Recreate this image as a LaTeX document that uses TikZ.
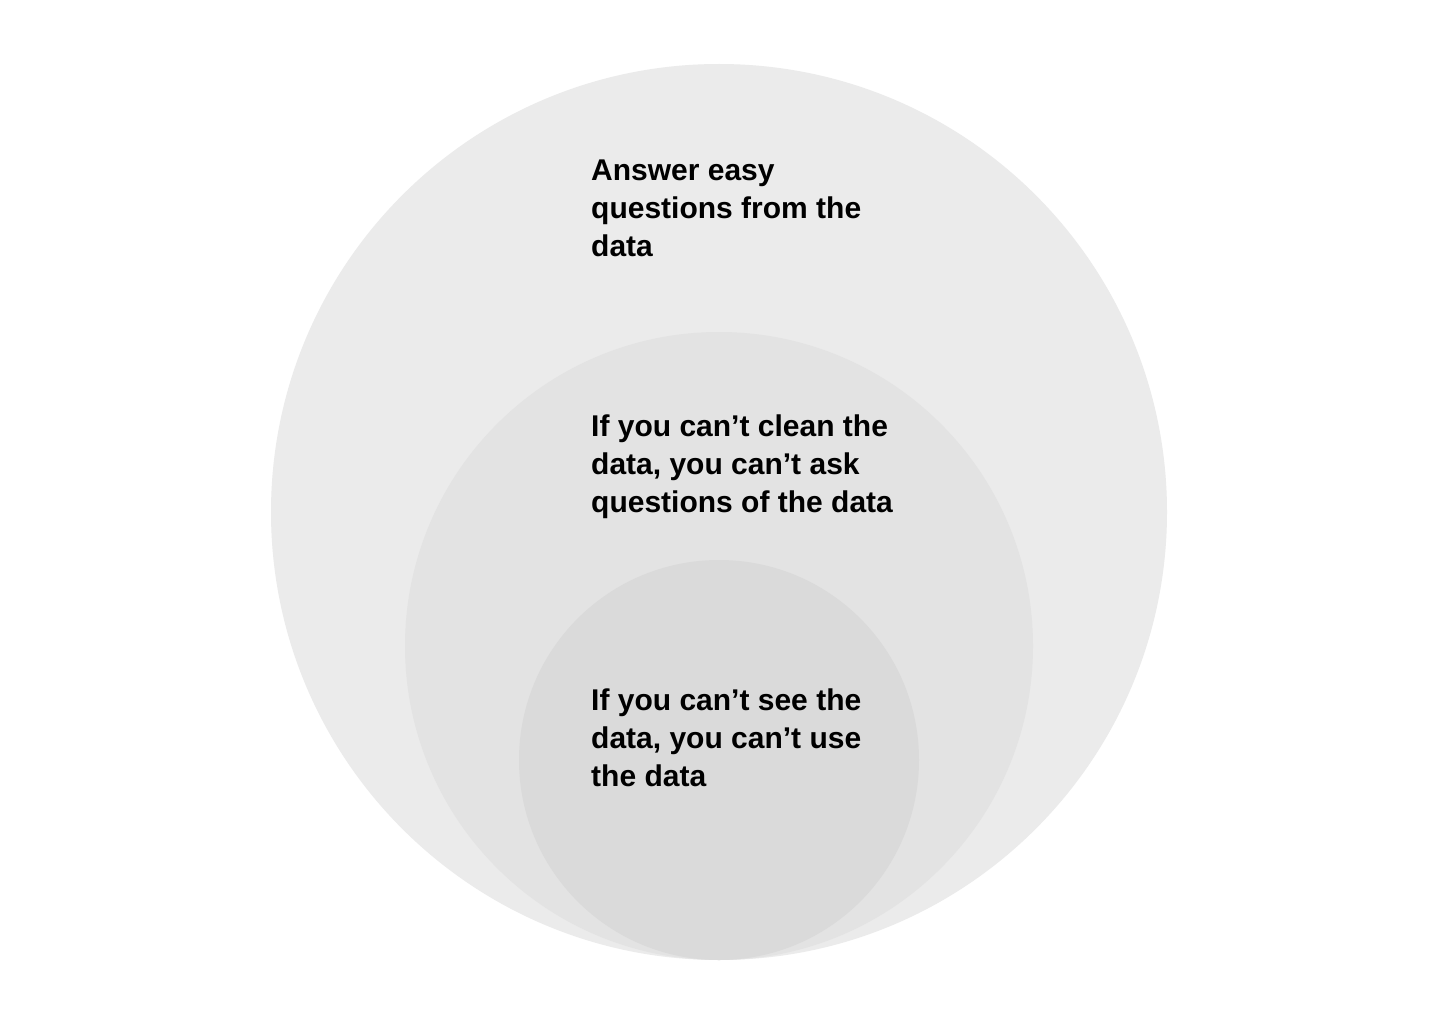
\documentclass[tikz,border=0pt]{standalone}
\usepackage{fontspec}
\setmainfont{Liberation Sans}
\usetikzlibrary{positioning}

\definecolor{ringA}{HTML}{EBEBEB}
\definecolor{ringB}{HTML}{E3E3E3}
\definecolor{ringC}{HTML}{DADADA}

\begin{document}
\begin{tikzpicture}[x=1pt, y=-1pt,
  layer/.style={anchor=base west, align=left, inner sep=0pt,
    font=\bfseries\fontsize{30}{38}\selectfont}]

\useasboundingbox (0,0) rectangle (1440,1024);
\fill[white] (0,0) rectangle (1440,1024);
% nested circles, all touching at the bottom
\foreach \cy/\r/\col in {512/448/ringA, 646/314/ringB, 760/200/ringC}
\fill[\col] (719,\cy) circle (\r pt);
% labels (base = baseline of the last line)
\node[layer] (easy) at (591,257) {Answer easy\\questions from the\\data};
\node[layer] (clean) at (591,512) {If you can’t clean the\\data, you can’t ask\\questions of the data};
\node[layer] (see) at (591,786) {If you can’t see the\\data, you can’t use\\the data};
\end{tikzpicture}
\end{document}
